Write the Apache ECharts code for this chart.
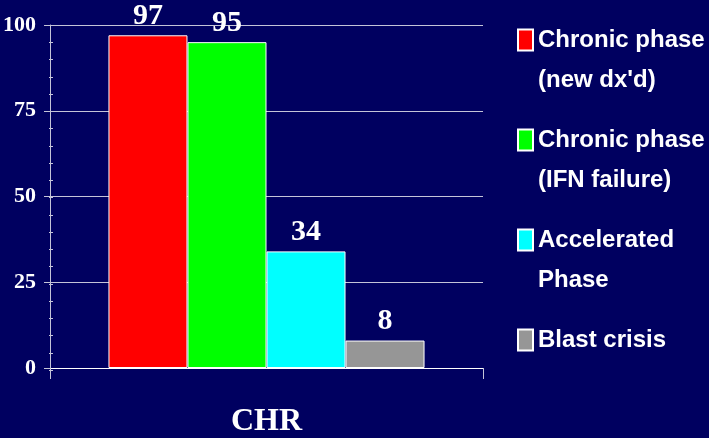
<!DOCTYPE html>
<html>
<head>
<meta charset="utf-8">
<script src="https://cdn.jsdelivr.net/npm/echarts@6/dist/echarts.min.js"></script>
<style>
html,body{margin:0;padding:0;background:#000060;}
#chart{width:709px;height:438px;}
</style>
</head>
<body>
<div id="chart"></div>
<script>
const categories = ['CHR'];
const seriesNames = ["Chronic phase\n(new dx'd)", "Chronic phase\n(IFN failure)", "Accelerated\nPhase", "Blast crisis"];
const seriesValues = [97, 95, 34, 8];
const yTickLabels = [0, 25, 50, 75, 100];

const barColors = ['#ff0000', '#00ff00', '#00ffff', '#969696'];
const lineColor = '#c4c4d8';
const serif = '"Liberation Serif", "Times New Roman", serif';
const sans = '"Liberation Sans", Arial, sans-serif';

const yMin = yTickLabels[0];
const yMax = yTickLabels[yTickLabels.length - 1];
const yStep = yTickLabels[1] - yTickLabels[0];

const chart = echarts.init(document.getElementById('chart'), null, {renderer: 'canvas'});

const gridPos = {left: 49, right: 226, top: 25, bottom: 68};

const option = {
  backgroundColor: '#000060',
  animation: false,
  grid: [
    Object.assign({}, gridPos),
    Object.assign({}, gridPos)
  ],
  legend: {
    orient: 'vertical',
    left: 517,
    top: -20,
    padding: 0,
    itemWidth: 15,
    itemHeight: 21,
    itemGap: -20,
    icon: 'rect',
    textStyle: {
      color: '#ffffff',
      fontFamily: sans,
      fontWeight: 'bold',
      fontSize: 24,
      lineHeight: 40
    },
    // pad every entry to three lines so the first text line sits beside the swatch
    formatter: function (name) {
      return name.indexOf('\n') >= 0 ? '\n' + name : '\n' + name + '\n';
    },
    data: seriesNames
  },
  xAxis: [
    {
      type: 'category',
      gridIndex: 0,
      data: categories,
      boundaryGap: true,
      axisLine: {show: true, lineStyle: {color: '#ffffff', width: 1}},
      axisTick: {show: true, length: 11, lineStyle: {color: lineColor}},
      axisLabel: {
        color: '#ffffff',
        fontFamily: serif,
        fontWeight: 'bold',
        fontSize: 32,
        lineHeight: 32,
        margin: 38
      },
      splitLine: {show: false}
    },
    {
      type: 'category',
      gridIndex: 1,
      data: categories,
      show: false
    }
  ],
  yAxis: [
    {
      type: 'value',
      gridIndex: 0,
      min: yMin,
      max: yMax,
      interval: yStep,
      axisLine: {show: true, lineStyle: {color: lineColor, width: 1}},
      axisTick: {show: true, inside: false, length: 6, lineStyle: {color: lineColor}},
      axisLabel: {
        color: '#ffffff',
        fontFamily: serif,
        fontWeight: 'bold',
        fontSize: 22,
        margin: 14,
        padding: [0, 0, 6, 0]
      },
      splitLine: {show: true, lineStyle: {color: lineColor, width: 1}}
    },
    {
      type: 'value',
      gridIndex: 1,
      min: yMin,
      max: yMax,
      interval: yStep / 5,
      axisLine: {show: false},
      axisTick: {show: true, inside: true, length: 4, lineStyle: {color: lineColor}},
      axisLabel: {show: false},
      splitLine: {show: false}
    }
  ],
  series: seriesNames.map(function (name, i) {
    return {
      name: name,
      type: 'bar',
      xAxisIndex: 0,
      yAxisIndex: 0,
      barGap: '0%',
      barCategoryGap: '27%',
      data: [seriesValues[i]],
      itemStyle: {color: barColors[i], borderColor: '#ffffff', borderWidth: 1},
      label: {
        show: true,
        position: 'top',
        distance: 7,
        color: '#ffffff',
        fontFamily: serif,
        fontWeight: 'bold',
        fontSize: 30,
        lineHeight: 24
      }
    };
  })
};

chart.setOption(option);
</script>
</body>
</html>
